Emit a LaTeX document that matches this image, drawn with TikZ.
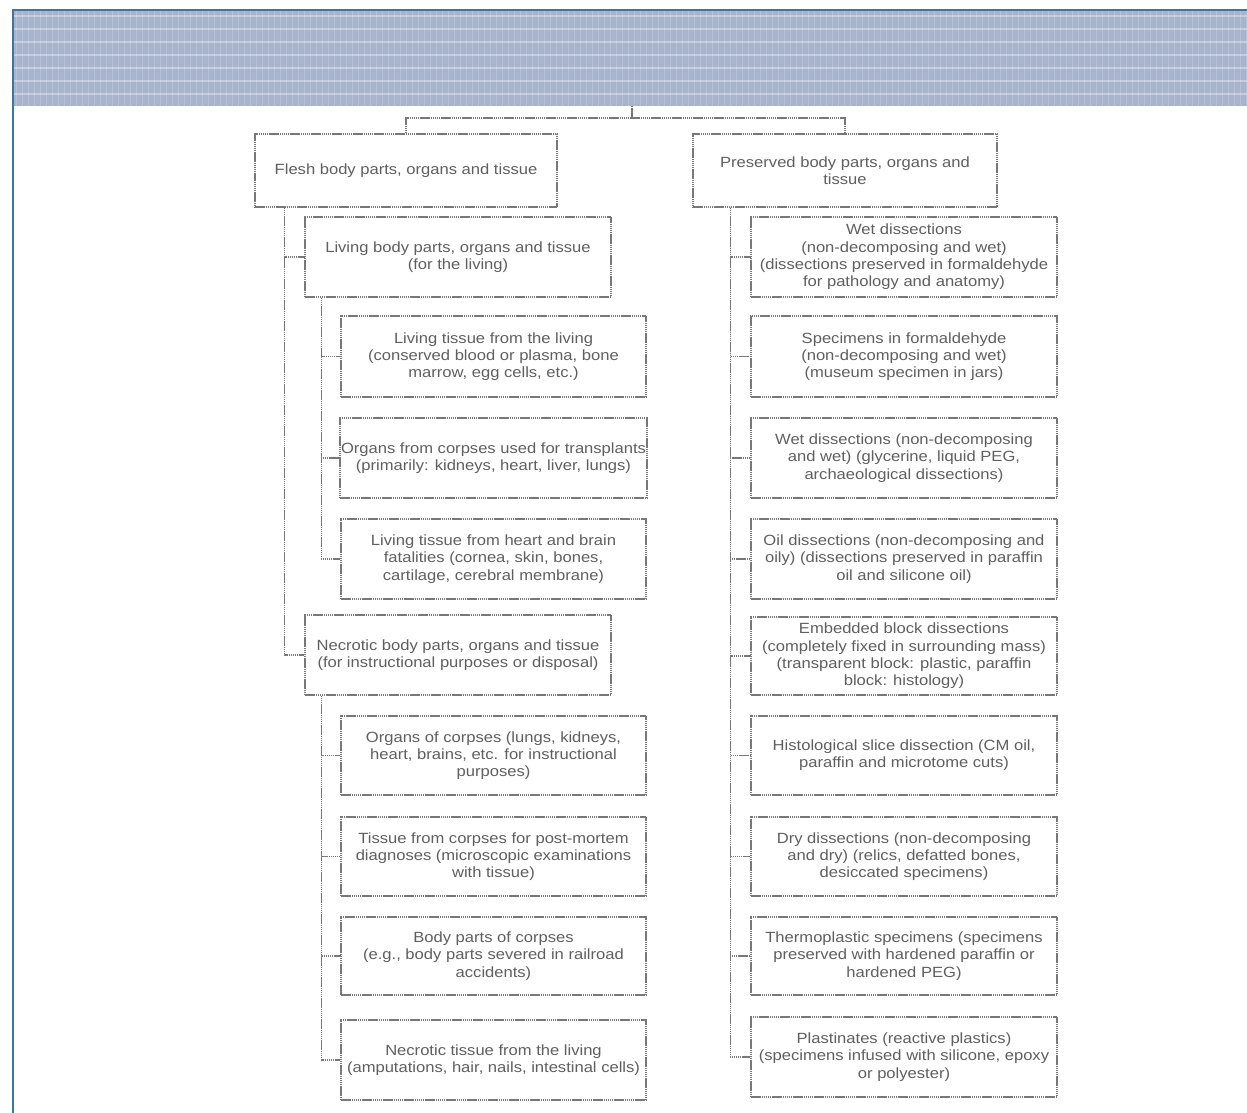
\documentclass[tikz,border=0pt]{standalone}
\usepackage{fontspec}
\setmainfont{Liberation Sans}[FakeStretch=1.12]
\definecolor{frameblue}{RGB}{66,116,160}
\definecolor{bannerc}{RGB}{168,180,204}
\definecolor{txtc}{RGB}{95,95,95}
\definecolor{linec}{RGB}{120,120,120}
\begin{document}
\begin{tikzpicture}[x=1pt,y=-1pt,
  bx/.style={draw=linec, line width=1.2pt, dash pattern=on 1.5pt off 0.6pt, rectangle, align=center,
     text=txtc, inner sep=1pt, font=\fontsize{14.8}{17.3}\selectfont},
  bl/.style={bx, minimum width=305pt, minimum height=80pt},
  ln/.style={draw=linec, line width=1.2pt, dash pattern=on 1.5pt off 0.6pt}]
\useasboundingbox (0,0) rectangle (1247,1113);
\fill[white] (0,0) rectangle (1247,1113);
% banner
\node[fill=bannerc, draw=none, minimum width=1235pt, minimum height=96pt, inner sep=0pt, anchor=north west] (banner) at (12,10) {};
\begin{scope}
\clip (12,10) rectangle (1247,106);
\foreach \yy in {16,29,...,106} {\draw[white, opacity=0.35, line width=1.5pt] (12,\yy) -- (1247,\yy);}
\foreach \xx in {16,22,...,1247} {\draw[white, opacity=0.18, line width=1pt] (\xx,10) -- (\xx,106);}
\end{scope}
\draw[frameblue, line width=2pt] (12.5,1113) -- (12.5,10) -- (1247,10);
\coordinate (top) at (632,106);
\coordinate (bar) at (632,118);
% level 1
\node[bx, minimum width=302pt, minimum height=73pt] (flesh) at (406,170.5) {Flesh body parts, organs and tissue};
\node[bx, minimum width=304pt, minimum height=73pt] (pres) at (845,170.5) {Preserved body parts, organs and\\tissue};
\draw[ln] (top) -- (bar);
\draw[ln] (flesh.north) |- (bar) -| (pres.north);
% left column
\node[bx, minimum width=306pt, minimum height=80pt] (living) at (458,257) {Living body parts, organs and tissue\\(for the living)};
\node[bl, minimum height=81pt] (lt1) at (493.5,356.5) {Living tissue from the living\\(conserved blood or plasma, bone\\marrow, egg cells, etc.)};
\node[bl] (lt2) at (493.5,458) {Organs from corpses used for transplants\\(primarily: kidneys, heart, liver, lungs)};
\node[bl] (lt3) at (493.5,559) {Living tissue from heart and brain\\fatalities (cornea, skin, bones,\\cartilage, cerebral membrane)};
\node[bx, minimum width=306pt, minimum height=80pt] (necro) at (458,655) {Necrotic body parts, organs and tissue\\(for instructional purposes or disposal)};
\node[bl, minimum height=79pt] (n1) at (493.5,755.5) {Organs of corpses (lungs, kidneys,\\heart, brains, etc. for instructional\\purposes)};
\node[bl, minimum height=79pt] (n2) at (493.5,856.5) {Tissue from corpses for post-mortem\\diagnoses (microscopic examinations\\with tissue)};
\node[bl, minimum height=78pt] (n3) at (493.5,956) {Body parts of corpses\\(e.g., body parts severed in railroad\\accidents)};
\node[bl] (n4) at (493.5,1060) {Necrotic tissue from the living\\(amputations, hair, nails, intestinal cells)};
\coordinate (lt) at ([xshift=30pt]flesh.south west);
\draw[ln] (lt) |- (living.west);
\draw[ln] (lt) |- (necro.west);
\coordinate (lt2t) at ([xshift=17pt]living.south west);
\draw[ln] (lt2t) |- (lt1.west);
\draw[ln] (lt2t) |- (lt2.west);
\draw[ln] (lt2t) |- (lt3.west);
\coordinate (nt) at ([xshift=17pt]necro.south west);
\draw[ln] (nt) |- (n1.west);
\draw[ln] (nt) |- (n2.west);
\draw[ln] (nt) |- (n3.west);
\draw[ln] (nt) |- (n4.west);
% right column
\node[bl, minimum width=306pt] (r1) at (904,257) {Wet dissections\\(non-decomposing and wet)\\(dissections preserved in formaldehyde\\for pathology and anatomy)};
\node[bl, minimum width=306pt, minimum height=81pt] (r2) at (904,356.5) {Specimens in formaldehyde\\(non-decomposing and wet)\\(museum specimen in jars)};
\node[bl, minimum width=306pt] (r3) at (904,458) {Wet dissections (non-decomposing\\and wet) (glycerine, liquid PEG,\\archaeological dissections)};
\node[bl, minimum width=306pt] (r4) at (904,559) {Oil dissections (non-decomposing and\\oily) (dissections preserved in paraffin\\oil and silicone oil)};
\node[bl, minimum width=306pt, minimum height=78pt] (r5) at (904,656) {Embedded block dissections\\(completely fixed in surrounding mass)\\(transparent block: plastic, paraffin\\block: histology)};
\node[bl, minimum width=306pt, minimum height=79pt] (r6) at (904,755.5) {Histological slice dissection (CM oil,\\paraffin and microtome cuts)};
\node[bl, minimum width=306pt, minimum height=79pt] (r7) at (904,856.5) {Dry dissections (non-decomposing\\and dry) (relics, defatted bones,\\desiccated specimens)};
\node[bl, minimum width=306pt, minimum height=78pt] (r8) at (904,956) {Thermoplastic specimens (specimens\\preserved with hardened paraffin or\\hardened PEG)};
\node[bl, minimum width=306pt] (r9) at (904,1057) {Plastinates (reactive plastics)\\(specimens infused with silicone, epoxy\\or polyester)};
\coordinate (rt) at ([xshift=38pt]pres.south west);
\foreach \n in {r1,r2,r3,r4,r5,r6,r7,r8,r9} {\draw[ln] (rt) |- (\n.west);}
\end{tikzpicture}
\end{document}
